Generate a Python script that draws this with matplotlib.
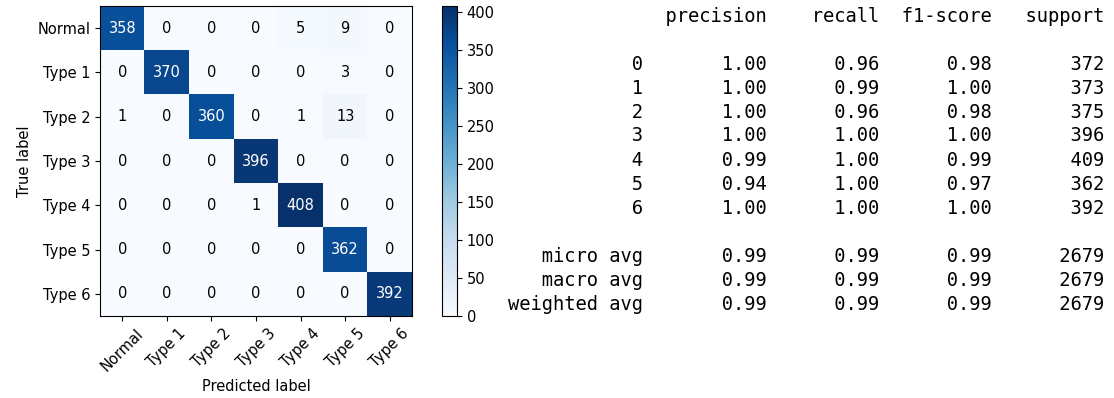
import matplotlib
matplotlib.use("Agg")
from matplotlib import pyplot as plt
import numpy as np

# Confusion matrix (rows: true label, columns: predicted label)
class_names = ["Normal", "Type 1", "Type 2", "Type 3", "Type 4", "Type 5", "Type 6"]
cm = np.array([
    [358, 0, 0, 0, 5, 9, 0],
    [0, 370, 0, 0, 0, 3, 0],
    [1, 0, 360, 0, 1, 13, 0],
    [0, 0, 0, 396, 0, 0, 0],
    [0, 0, 0, 1, 408, 0, 0],
    [0, 0, 0, 0, 0, 362, 0],
    [0, 0, 0, 0, 0, 0, 392],
])

# Classification report values
report_labels = ["0", "1", "2", "3", "4", "5", "6"]
precision = [1.00, 1.00, 1.00, 1.00, 0.99, 0.94, 1.00]
recall = [0.96, 0.99, 0.96, 1.00, 1.00, 1.00, 1.00]
f1_score = [0.98, 1.00, 0.98, 1.00, 0.99, 0.97, 1.00]
support = [372, 373, 375, 396, 409, 362, 392]
avg_labels = ["micro avg", "macro avg", "weighted avg"]
avg_precision = [0.99, 0.99, 0.99]
avg_recall = [0.99, 0.99, 0.99]
avg_f1 = [0.99, 0.99, 0.99]
avg_support = [2679, 2679, 2679]


def _report_lines():
    """Build the text lines in the same layout as sklearn's report."""
    width = 12
    head_fmt = '{:>{width}s} ' + ' {:>9}' * 4
    row_fmt = '{:>{width}s} ' + ' {:>9.2f}' * 3 + ' {:>9}'
    lines = [head_fmt.format('', 'precision', 'recall', 'f1-score', 'support',
                             width=width), '']
    for row in zip(report_labels, precision, recall, f1_score, support):
        lines.append(row_fmt.format(*row, width=width))
    lines.append('')
    for row in zip(avg_labels, avg_precision, avg_recall, avg_f1, avg_support):
        lines.append(row_fmt.format(*row, width=width))
    return lines


W, H = 1114, 398
fig = plt.figure(figsize=(W / 100.0, H / 100.0), dpi=100)

# Confusion matrix heatmap
ax = fig.add_axes([100.0 / W, (H - 316.0) / H, 312.0 / W, 310.0 / H])
im = ax.imshow(cm, interpolation='nearest', cmap=plt.cm.Blues, aspect='auto')

tick_marks = np.arange(len(class_names))
ax.set_xticks(tick_marks)
ax.set_xticklabels(class_names, rotation=45, fontsize=10.5)
ax.set_yticks(tick_marks)
ax.set_yticklabels(class_names, fontsize=10.5)

thresh = cm.max() / 2.0
for i in range(cm.shape[0]):
    for j in range(cm.shape[1]):
        ax.text(j, i, format(cm[i, j], 'd'),
                ha='center', va='center', fontsize=10.5,
                color='white' if cm[i, j] > thresh else 'black')

ax.set_ylabel('True label', fontsize=10.5)
ax.set_xlabel('Predicted label', fontsize=10.5)

# Colorbar
cax = fig.add_axes([442.0 / W, (H - 316.0) / H, 15.0 / W, 310.0 / H])
cbar = fig.colorbar(im, cax=cax)
cbar.set_ticks(np.arange(0, 401, 50))
cbar.ax.tick_params(labelsize=10.5)

# Classification report text
for k, line in enumerate(_report_lines()):
    y = 16.0 + 24.0 * k
    fig.text(1104.0 / W, 1 - y / H, line, ha='right', va='center',
             family='DejaVu Sans Mono', fontsize=13.5)

plt.savefig("out.png", dpi=100)
